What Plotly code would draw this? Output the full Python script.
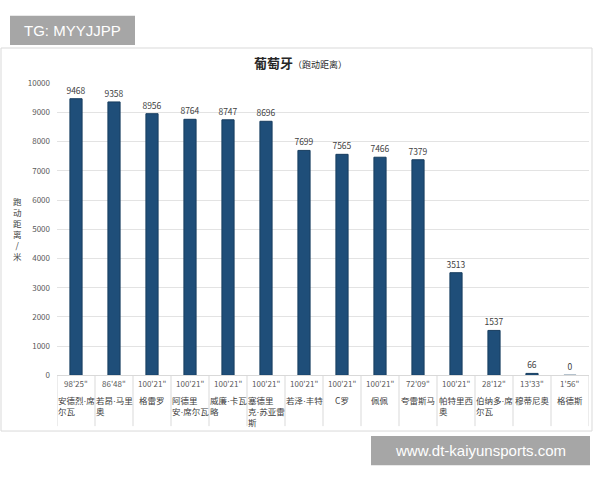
import plotly.graph_objects as go

DOT = "<span style='font-family:Liberation Sans'>·</span>"
names = ["安德烈·席<br>尔瓦", "若昂·马里<br>奥", "格雷罗", "阿德里<br>安·席尔瓦", "威廉·卡瓦<br>略",
         "塞德里<br>克·苏亚雷<br>斯", "若泽·丰特", "C罗", "佩佩", "夸雷斯马", "帕特里西<br>奥",
         "伯纳多·席<br>尔瓦", "穆蒂尼奥", "格德斯"]
times = ["98'25\"", "86'48\"", "100'21\"", "100'21\"", "100'21\"", "100'21\"", "100'21\"",
         "100'21\"", "100'21\"", "72'09\"", "100'21\"", "28'12\"", "13'33\"", "1'56\""]
distance = [9468, 9358, 8956, 8764, 8747, 8696, 7699, 7565, 7466, 7379, 3513, 1537, 66, 0]
y_ticks = [0, 1000, 2000, 3000, 4000, 5000, 6000, 7000, 8000, 9000, 10000]

W, H = 600, 480
FONT = "Noto Sans CJK SC, Noto Sans, sans-serif"
GRAY = "#595959"

def px(x):
    return x / W

def py(y):
    return 1 - y / H

idx = list(range(len(names)))

fig = go.Figure()
fig.add_trace(go.Bar(
    x=idx, y=distance, width=0.32,
    marker=dict(color="#1f4e79", line=dict(color="#173d5f", width=1)),
    text=[str(v) for v in distance], textposition="outside",
    textfont=dict(size=8.5, color="#404040", family=FONT),
    constraintext="none",
    cliponaxis=False,
))

x0, x1 = 57, 589
y0, y1 = 378, 79

shapes = []
shapes.append(dict(type="rect", xref="paper", yref="paper", x0=px(1), x1=px(592), y0=py(43), y1=py(435),
                   line=dict(color="#d9d9d9", width=1), fillcolor="rgba(0,0,0,0)", layer="below"))
for i in range(len(names) + 1):
    shapes.append(dict(type="line", xref="x", yref="paper", x0=i - 0.5, x1=i - 0.5,
                       y0=py(378), y1=py(430), line=dict(color="#d9d9d9", width=1)))
shapes.append(dict(type="rect", xref="paper", yref="paper", x0=px(10), x1=px(135), y0=py(10), y1=py(40),
                   line=dict(width=0), fillcolor="#a6a6a6"))
shapes.append(dict(type="rect", xref="paper", yref="paper", x0=px(371), x1=px(590), y0=py(440), y1=py(470),
                   line=dict(width=0), fillcolor="#a6a6a6"))

annotations = []
for i in idx:
    annotations.append(dict(x=i, y=py(386), xref="x", yref="paper", text=times[i], showarrow=False,
                            font=dict(size=8, color=GRAY, family=FONT), xanchor="center", yanchor="middle"))
    annotations.append(dict(x=i, y=py(395), xref="x", yref="paper", text=names[i].replace("·", DOT),
                            showarrow=False, align="left",
                            font=dict(size=8.5, color="#404040", family=FONT),
                            xanchor="center", yanchor="top"))

annotations.append(dict(x=px(300), y=py(58), xref="paper", yref="paper", showarrow=False,
                        text="<b>葡萄牙</b><span style='font-size:9px'>（跑动距离）</span>",
                        font=dict(size=13, color="#262626", family=FONT), xanchor="center", yanchor="middle"))
annotations.append(dict(x=px(17), y=py(228), xref="paper", yref="paper", showarrow=False,
                        text="跑<br>动<br>距<br>离<br>/<br>米", align="center",
                        font=dict(size=8.5, color="#404040", family=FONT), xanchor="center", yanchor="middle"))
annotations.append(dict(x=px(72), y=py(25), xref="paper", yref="paper", showarrow=False,
                        text="TG: MYYJJPP", font=dict(size=15, color="white", family="Liberation Sans, Arial"),
                        xanchor="center", yanchor="middle"))
annotations.append(dict(x=px(480), y=py(455), xref="paper", yref="paper", showarrow=False,
                        text="www.dt-kaiyunsports.com", font=dict(size=15, color="white", family="Liberation Sans, Arial"),
                        xanchor="center", yanchor="middle"))

fig.update_layout(
    width=W, height=H,
    margin=dict(l=0, r=0, t=0, b=0),
    paper_bgcolor="white", plot_bgcolor="white",
    showlegend=False,
    xaxis=dict(domain=[px(x0), px(x1)], range=[-0.5, len(names) - 0.5], showticklabels=False,
               showgrid=False, zeroline=False, showline=True, linecolor="#d9d9d9", linewidth=1,
               ticks=""),
    yaxis=dict(domain=[py(y0), py(y1)], range=[0, 10000], tickvals=y_ticks,
               ticktext=[str(v) for v in y_ticks],
               showgrid=True, gridcolor="#e3e3e3", gridwidth=1, zeroline=False, showline=False,
               tickfont=dict(size=8, color=GRAY, family=FONT), ticklabelstandoff=6),
    shapes=shapes, annotations=annotations,
    bargap=0.6,
)

fig.write_html("out.html")
